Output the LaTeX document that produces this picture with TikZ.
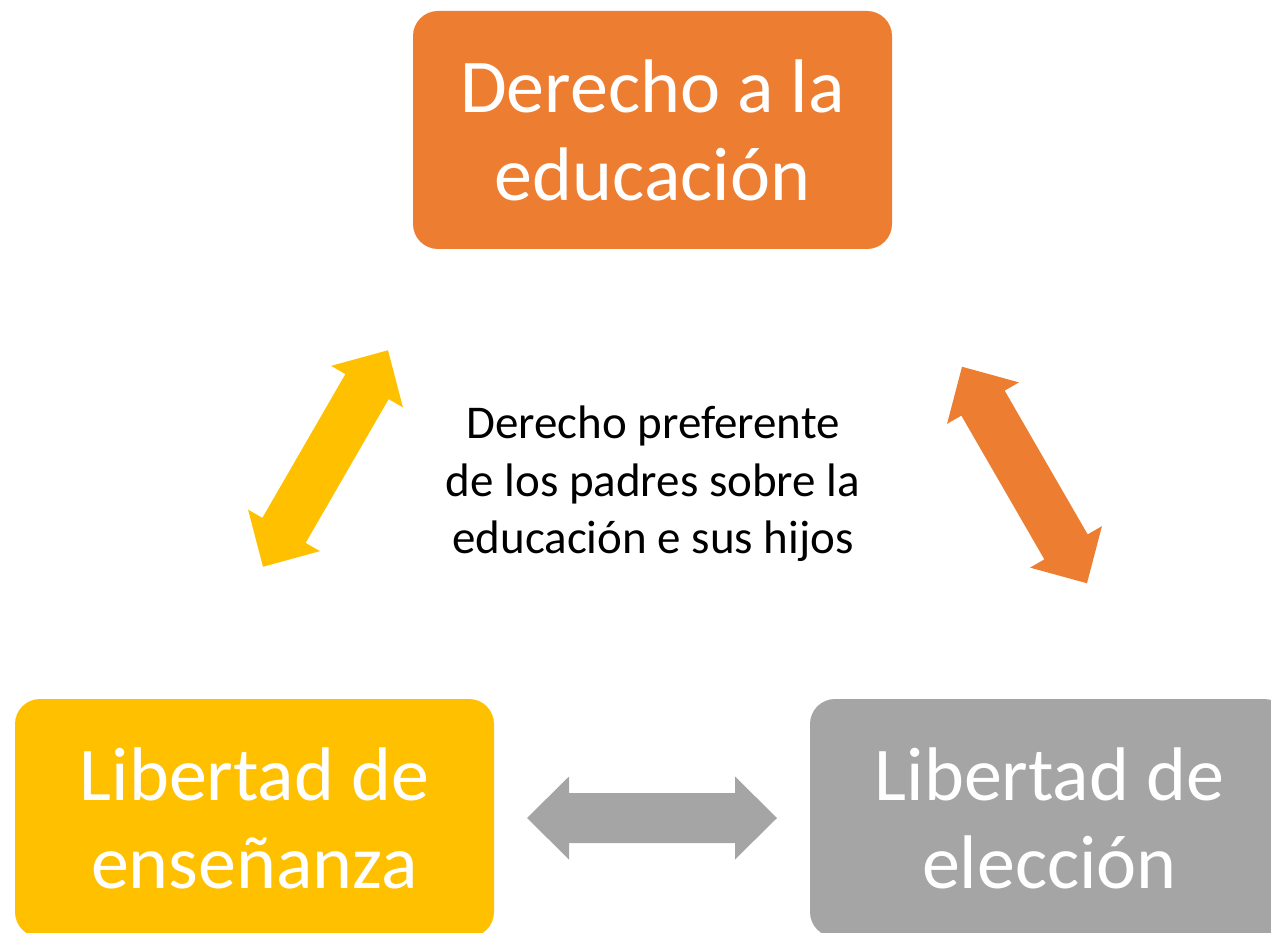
\documentclass[tikz,border=0pt]{standalone}
\usepackage{fontspec}
\setmainfont{Carlito}
\definecolor{orangec}{HTML}{ED7D31}
\definecolor{yellowc}{HTML}{FFC000}
\definecolor{grayc}{HTML}{A5A5A5}
\begin{document}
\begin{tikzpicture}[x=1pt,y=-1pt,
  box/.style={rounded corners=25pt, minimum width=479pt, minimum height=238pt,
    inner sep=0pt, text=white, align=center, font=\fontsize{76}{88}\selectfont},
  centertext/.style={align=center, text=black, inner sep=0pt, font=\fontsize{47}{57.5}\selectfont},
  dblarrow/.pic={\fill (-125,0) -- (-83,41.5) -- (-83,25) -- (83,25) -- (83,41.5) -- (125,0)
     -- (83,-41.5) -- (83,-25) -- (-83,-25) -- (-83,-41.5) -- cycle;}]
\useasboundingbox (0,0) rectangle (1271,933);
\clip (0,0) rectangle (1271,933);
\node[box, fill=orangec] (top) at (652.5,130) {Derecho a la\\educación};
\node[box, fill=yellowc] (left) at (254.5,818) {Libertad de\\enseñanza};
\node[box, fill=grayc] (right) at (1049.5,818) {Libertad de\\elección};
\node[centertext] (mid) at (653,484) {Derecho preferente\\de los padres sobre la\\educación e sus hijos};
\pic[fill=yellowc, rotate=60] (ya) at (325.5,458.5) {dblarrow};
\pic[fill=orangec, rotate=-60] (oa) at (1024.5,475) {dblarrow};
\pic[fill=grayc] (ga) at (652,818) {dblarrow};
\end{tikzpicture}
\end{document}
